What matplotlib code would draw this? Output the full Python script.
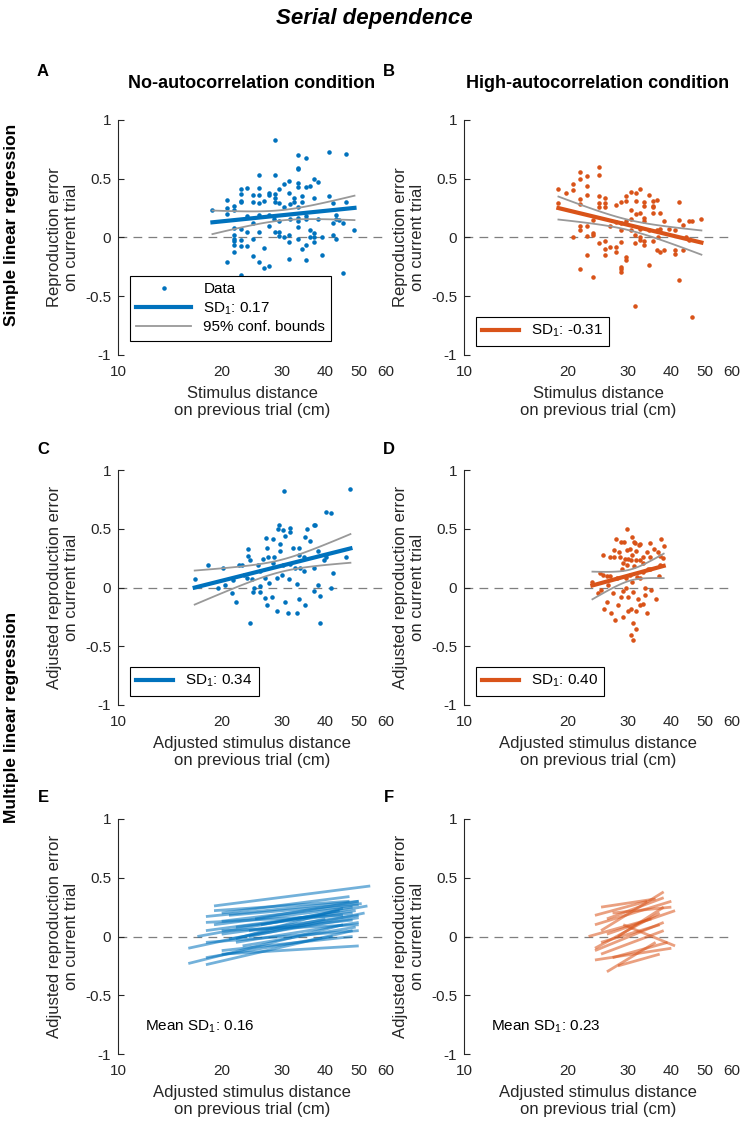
import numpy as np
import matplotlib
matplotlib.use("Agg")
import matplotlib.pyplot as plt

plt.rcParams['font.family'] = ['Liberation Sans', 'DejaVu Sans']
plt.rcParams['mathtext.default'] = 'regular'

BLUE = '#0072BD'
ORANGE = '#D95319'
DARK = '#262626'

# panel A: simple regression, no-autocorrelation condition
a_x = [28.5, 40.9, 45.8, 33.3, 35.2, 33.3, 33.3, 25.6, 28.5, 37.2, 31.3, 38.2, 30.4, 33.3, 33.3,
       35.2, 36.2, 22.7, 23.7, 25.6, 29.4, 22.7, 24.6, 25.6, 27.5, 27.5, 28.5, 31.3, 34.3, 28.5,
       37.2, 41.0, 22.7, 22.7, 20.7, 24.6, 25.6, 26.5, 28.5, 32.4, 32.4, 34.3, 45.8, 42.0, 18.8,
       20.7, 21.7, 21.7, 29.4, 31.6, 30.4, 33.3, 20.7, 23.7, 25.6, 27.4, 28.3, 29.4, 31.6, 33.3,
       33.3, 35.2, 35.2, 38.2, 42.9, 42.9, 43.9, 45.0, 42.0, 21.7, 22.7, 23.7, 24.6, 25.6, 27.5,
       28.5, 29.4, 29.4, 30.4, 31.3, 33.3, 36.2, 37.2, 36.2, 37.2, 37.2, 39.1, 42.0, 42.9, 48.6,
       21.7, 21.7, 21.7, 22.7, 24.6, 31.3, 33.3, 21.7, 22.7, 23.7, 35.2, 34.3, 21.7, 26.5, 24.6,
       31.3, 35.2, 39.1, 20.7, 25.6, 26.5, 27.5, 22.7, 44.9]
a_y = [0.83, 0.73, 0.71, 0.70, 0.68, 0.59, 0.58, 0.53, 0.53, 0.50, 0.48, 0.47, 0.455, 0.46, 0.43,
       0.43, 0.44, 0.41, 0.42, 0.42, 0.41, 0.37, 0.36, 0.36, 0.38, 0.36, 0.37, 0.375, 0.35, 0.34,
       0.34, 0.35, 0.31, 0.30, 0.32, 0.30, 0.29, 0.31, 0.30, 0.34, 0.30, 0.30, 0.30, 0.29, 0.23,
       0.25, 0.27, 0.23, 0.29, 0.285, 0.26, 0.26, 0.20, 0.18, 0.19, 0.19, 0.16, 0.14, 0.155, 0.17,
       0.14, 0.18, 0.155, 0.155, 0.195, 0.16, 0.15, 0.12, 0.12, 0.08, 0.07, 0.05, 0.12, 0.05, 0.10,
       0.05, 0.05, 0.01, 0.00, 0.02, 0.09, 0.06, 0.04, 0.00, 0.00, -0.04, 0.00, 0.02, -0.01, 0.06,
       0.02, -0.01, -0.03, -0.02, -0.01, -0.04, -0.01, -0.06, -0.07, -0.07, -0.06, -0.10, -0.12, -0.09, -0.16,
       -0.18, -0.19, -0.15, -0.21, -0.21, -0.26, -0.24, -0.32, -0.30]

# panel B: simple regression, high-autocorrelation condition
b_x = [24.6, 21.7, 24.6, 22.7, 21.7, 20.7, 22.7, 18.8, 20.7, 19.8, 22.7, 21.7, 24.6, 25.6, 30.5,
       32.5, 31.5, 29.5, 34.4, 28.5, 27.6, 25.6, 24.6, 25.6, 24.6, 29.5, 31.5, 33.4, 35.3, 36.3,
       35.3, 35.3, 33.4, 42.0, 21.7, 18.8, 30.5, 32.5, 35.3, 37.1, 31.5, 33.4, 30.5, 33.4, 38.2,
       42.0, 43.1, 44.9, 45.9, 48.9, 23.7, 26.6, 27.6, 28.5, 29.5, 21.7, 22.7, 21.7, 23.7, 23.7,
       20.7, 22.7, 28.5, 30.5, 32.5, 34.4, 36.3, 37.2, 39.3, 41.1, 31.4, 32.4, 32.4, 33.4, 35.3,
       36.6, 24.6, 25.6, 25.6, 26.6, 27.6, 28.5, 31.4, 33.4, 36.3, 37.2, 38.2, 41.1, 41.1, 43.1,
       44.1, 44.9, 25.6, 22.7, 27.6, 29.6, 29.6, 28.5, 28.5, 28.5, 34.4, 21.7, 23.7, 42.0, 31.4,
       45.9]
b_y = [0.60, 0.56, 0.53, 0.52, 0.50, 0.455, 0.435, 0.41, 0.40, 0.38, 0.36, 0.33, 0.35, 0.34, 0.39,
       0.41, 0.38, 0.35, 0.36, 0.30, 0.28, 0.29, 0.29, 0.26, 0.26, 0.31, 0.31, 0.30, 0.31, 0.32,
       0.27, 0.26, 0.27, 0.30, 0.285, 0.29, 0.235, 0.21, 0.21, 0.21, 0.20, 0.17, 0.16, 0.14, 0.14,
       0.15, 0.11, 0.14, 0.14, 0.16, 0.15, 0.10, 0.13, 0.12, 0.14, 0.10, 0.10, 0.06, 0.04, 0.02,
       0.00, 0.01, 0.06, 0.06, 0.07, 0.06, 0.06, 0.07, 0.07, 0.06, 0.02, 0.00, -0.02, -0.03, -0.03,
       0.00, -0.05, -0.03, -0.10, -0.08, -0.08, -0.04, -0.05, -0.06, -0.11, -0.12, -0.11, -0.11, -0.14, -0.11,
       0.00, -0.02, -0.15, -0.15, -0.12, -0.17, -0.19, -0.25, -0.27, -0.29, -0.23, -0.27, -0.34, -0.36, -0.58,
       -0.68]

# panel C: multiple regression (adjusted), no-autocorrelation
c_x = [30.3, 47.3, 40.2, 41.5, 29.4, 29.1, 30.2, 31.6, 31.6, 37.0, 37.3, 35.4, 35.0, 26.9, 28.2,
       30.5, 32.3, 33.5, 36.1, 29.5, 23.8, 23.9, 27.0, 28.4, 29.5, 33.5, 34.6, 38.2, 40.2, 45.9,
       20.2, 18.2, 22.4, 22.9, 24.2, 25.5, 26.4, 27.2, 28.1, 30.2, 31.6, 32.7, 33.8, 34.7, 37.0,
       39.7, 42.2, 16.7, 23.2, 23.7, 24.5, 25.9, 26.8, 27.4, 29.0, 30.0, 31.3, 33.1, 20.4, 19.5,
       21.6, 24.8, 25.9, 38.2, 41.5, 37.0, 38.6, 24.7, 25.9, 26.7, 28.0, 33.5, 24.2, 29.0, 31.2,
       33.0, 38.5, 27.0, 30.5, 35.0, 21.5, 22.0]
c_y = [0.82, 0.84, 0.64, 0.63, 0.53, 0.50, 0.49, 0.51, 0.47, 0.53, 0.53, 0.50, 0.43, 0.42, 0.41,
       0.44, 0.34, 0.34, 0.40, 0.37, 0.33, 0.27, 0.34, 0.26, 0.31, 0.28, 0.26, 0.31, 0.26, 0.26,
       0.17, 0.19, 0.19, 0.19, 0.23, 0.19, 0.24, 0.26, 0.21, 0.19, 0.20, 0.17, 0.17, 0.14, 0.17,
       0.23, 0.12, 0.07, 0.11, 0.08, 0.07, 0.14, 0.08, 0.04, 0.08, 0.11, 0.07, 0.03, 0.02, 0.00,
       0.06, 0.00, 0.01, 0.02, 0.00, -0.03, -0.07, -0.04, -0.04, -0.09, -0.08, -0.10, -0.30, -0.20, -0.22,
       -0.22, -0.30, -0.15, -0.12, -0.15, -0.05, -0.12]

# panel D: multiple regression (adjusted), high-autocorrelation
d_x = [29.8, 27.6, 28.5, 29.1, 30.7, 31.1, 31.3, 32.5, 32.2, 34.7, 37.4, 25.4, 27.2, 28.2, 29.8,
       30.3, 31.5, 30.7, 34.0, 26.5, 27.2, 28.4, 29.4, 30.0, 30.5, 31.6, 32.5, 33.1, 34.7, 37.1,
       28.9, 28.7, 29.8, 31.1, 33.2, 34.7, 37.1, 23.6, 25.4, 26.0, 26.6, 27.8, 29.6, 30.3, 31.7,
       32.5, 33.2, 34.3, 25.0, 27.0, 29.0, 30.0, 31.0, 32.0, 33.5, 35.0, 26.0, 28.0, 30.5, 31.5,
       33.0, 29.0, 31.0, 30.5, 31.0, 27.5, 34.0, 36.0, 24.5, 25.5, 26.2, 24.8, 26.8, 36.5, 37.8,
       35.5, 36.8, 38.0, 30.0, 31.5, 32.5, 29.5, 30.8, 28.5, 33.5]
d_y = [0.50, 0.41, 0.39, 0.39, 0.43, 0.39, 0.38, 0.37, 0.36, 0.38, 0.41, 0.28, 0.32, 0.30, 0.32,
       0.33, 0.31, 0.28, 0.30, 0.26, 0.26, 0.26, 0.24, 0.24, 0.23, 0.23, 0.23, 0.26, 0.26, 0.27,
       0.21, 0.16, 0.19, 0.18, 0.21, 0.16, 0.19, 0.05, 0.11, 0.10, 0.10, 0.08, 0.08, 0.11, 0.09,
       0.08, 0.13, 0.16, -0.02, -0.05, -0.03, -0.08, -0.04, -0.10, -0.06, -0.02, -0.12, -0.15, -0.18, -0.20,
       -0.14, -0.25, -0.30, -0.40, -0.45, -0.28, -0.22, -0.10, -0.05, -0.18, 0.02, 0.12, -0.22, 0.30, 0.25,
       0.33, 0.10, 0.35, -0.20, -0.35, -0.15, 0.00, 0.05, -0.08, 0.00]

# panel E: per-participant fits, no-autocorrelation (start/end of each line)
e_x0 = [19, 20, 18, 20, 19, 18, 16, 16, 18, 20, 22, 20, 24, 18, 22, 20, 25, 18, 22, 20,
        17, 21, 23, 19, 26, 18, 21, 24]
e_x1 = [54, 47, 50, 50, 48, 49, 40, 45, 48, 50, 50, 50, 52, 50, 48, 48, 50, 45, 45, 50,
        44, 51, 49, 47, 53, 42, 50, 48]
e_y0 = [0.26, 0.20, 0.17, 0.13, 0.10, 0.05, -0.10, -0.23, -0.24, -0.15, -0.05, 0.02, 0.00, -0.05, 0.08,
        -0.12, 0.15, 0.12, -0.02, 0.05, 0.00, 0.18, -0.08, 0.22, 0.10, -0.18, -0.02, 0.05]
e_y1 = [0.43, 0.34, 0.30, 0.27, 0.25, 0.22, 0.15, 0.10, 0.05, -0.08, 0.12, 0.18, 0.20, 0.05, 0.20,
        0.00, 0.30, 0.18, 0.24, 0.10, 0.22, 0.28, 0.08, 0.30, 0.26, 0.00, 0.16, 0.14]

# panel F: per-participant fits, high-autocorrelation
f_x0 = [25, 26, 24, 24, 25, 26, 24, 27, 25, 28, 24, 28, 26, 23, 27, 25, 29, 24]
f_x1 = [38, 38, 40, 37, 38, 36, 40, 40, 37, 38, 34, 37, 41, 35, 39, 36, 41, 38]
f_y0 = [0.05, 0.15, 0.10, -0.10, -0.15, -0.30, -0.20, 0.20, -0.05, 0.00, 0.18, -0.25, 0.02, 0.00, -0.18, 0.25, 0.10, -0.12]
f_y1 = [0.38, 0.33, 0.30, 0.20, 0.05, -0.05, -0.10, 0.25, 0.10, 0.25, 0.30, -0.15, 0.22, 0.15, -0.05, 0.32, -0.08, 0.12]

sd_simple = [0.17, -0.31]
sd_multi = [0.34, 0.40]
sd_mean = [0.16, 0.23]


def fit_with_ci(x, y):
    # linear fit in log10(x), with 95% confidence bounds on the mean
    lx = np.log10(np.asarray(x))
    y = np.asarray(y)
    n = len(lx)
    b1, b0 = np.polyfit(lx, y, 1)
    resid = y - (b0 + b1 * lx)
    s = np.sqrt((resid ** 2).sum() / (n - 2))
    sxx = ((lx - lx.mean()) ** 2).sum()
    grid = np.linspace(lx.min(), lx.max(), 100)
    pred = b0 + b1 * grid
    half = 1.98 * s * np.sqrt(1.0 / n + (grid - lx.mean()) ** 2 / sxx)
    return 10 ** grid, pred, pred - half, pred + half


def style_axes(ax, ylabel, xlabel):
    ax.set_xscale('log')
    ax.set_xlim(10, 60)
    ax.set_ylim(-1, 1)
    ax.set_xticks([10, 20, 30, 40, 50, 60])
    ax.set_xticklabels(['10', '20', '30', '40', '50', '60'])
    ax.xaxis.set_minor_locator(matplotlib.ticker.NullLocator())
    ax.set_yticks([-1, -0.5, 0, 0.5, 1])
    ax.set_yticklabels(['-1', '-0.5', '0', '0.5', '1'])
    for s in ['top', 'right', 'bottom']:
        ax.spines[s].set_visible(False)
    ax.spines['left'].set_color(DARK)
    ax.spines['left'].set_linewidth(0.8)
    ax.tick_params(axis='y', direction='in', length=4, width=0.8, colors=DARK, labelsize=11, pad=5)
    ax.tick_params(axis='x', length=0, colors=DARK, labelsize=11, pad=7)
    ax.axhline(0, color='#7f7f7f', lw=0.9, dashes=(7, 5), zorder=0)
    ax.set_ylabel(ylabel, fontsize=12, color=DARK, labelpad=4)
    ax.set_xlabel(xlabel, fontsize=12, color=DARK, labelpad=5)


fig = plt.figure(figsize=(7.48, 11.3), dpi=100)
W, H = 748.0, 1130.0
lefts = [118 / W, 464 / W]
bottoms = [1 - 355 / H, 1 - 705 / H, 1 - 1054 / H]
aw, ah = 268 / W, 235 / H

xl_simple = 'Stimulus distance\non previous trial (cm)'
xl_adj = 'Adjusted stimulus distance\non previous trial (cm)'
yl_simple = 'Reproduction error\non current trial'
yl_adj = 'Adjusted reproduction error\non current trial'

scatter_sets = [(a_x, a_y, BLUE), (b_x, b_y, ORANGE), (c_x, c_y, BLUE), (d_x, d_y, ORANGE)]
sd_vals = sd_simple + sd_multi
axes = []
for i, (sx, sy, col) in enumerate(scatter_sets):
    row, colm = divmod(i, 2)
    ax = fig.add_axes([lefts[colm], bottoms[row], aw, ah])
    axes.append(ax)
    style_axes(ax, yl_simple if row == 0 else yl_adj, xl_simple if row == 0 else xl_adj)
    gx, pred, lo, hi = fit_with_ci(sx, sy)
    h_data, = ax.plot(sx, sy, '.', color=col, ms=4.5, ls='none', label='Data')
    h_fit, = ax.plot(gx, pred, color=col, lw=3, label='SD$_1$: %.2f' % sd_vals[i])
    h_ci, = ax.plot(gx, lo, color='#999999', lw=1.3, label='95% conf. bounds')
    ax.plot(gx, hi, color='#999999', lw=1.3)
    if i == 0:
        handles = [h_data, h_fit, h_ci]
        leg = ax.legend(handles=handles, loc='upper left', bbox_to_anchor=(0.045, 0.335),
                        fontsize=11, handlelength=3.6, labelspacing=0.25, borderaxespad=0,
                        fancybox=False, framealpha=1, edgecolor='black', borderpad=0.4)
    else:
        leg = ax.legend(handles=[h_fit], loc='lower left', bbox_to_anchor=(0.045, 0.04),
                        fontsize=11, handlelength=2.4, borderaxespad=0,
                        fancybox=False, framealpha=1, edgecolor='black', borderpad=0.4)
    leg.get_frame().set_linewidth(0.8)

line_sets = [(e_x0, e_x1, e_y0, e_y1, BLUE), (f_x0, f_x1, f_y0, f_y1, ORANGE)]
for j, (x0, x1, y0, y1, col) in enumerate(line_sets):
    ax = fig.add_axes([lefts[j], bottoms[2], aw, ah])
    axes.append(ax)
    style_axes(ax, yl_adj, xl_adj)
    for k in range(len(x0)):
        ax.plot([x0[k], x1[k]], [y0[k], y1[k]], color=col, lw=2, alpha=0.55, solid_capstyle='butt')
    ax.text(0.1, 0.1, 'Mean SD$_1$: %.2f' % sd_mean[j], transform=ax.transAxes,
            fontsize=11, color='black')

fig.text(0.5, 0.993, 'Serial dependence', ha='center', va='top', fontsize=16,
         fontweight='bold', fontstyle='italic')
fig.text(252 / W, 1 - 83 / H, 'No-autocorrelation condition', ha='center', va='center',
         fontsize=13, fontweight='bold')
fig.text(598 / W, 1 - 83 / H, 'High-autocorrelation condition', ha='center', va='center',
         fontsize=13, fontweight='bold')

letters = ['A', 'B', 'C', 'D', 'E', 'F']
letter_y = [72, 72, 449, 449, 798, 798]
for k, lt in enumerate(letters):
    fig.text((43 + 346 * (k % 2)) / W, 1 - letter_y[k] / H, lt, ha='center', va='center',
             fontsize=12, fontweight='bold')

fig.text(12 / W, 1 - 225 / H, 'Simple linear regression', rotation=90, ha='center', va='center',
         fontsize=12.5, fontweight='bold')
fig.text(12 / W, 1 - 717 / H, 'Multiple linear regression', rotation=90, ha='center', va='center',
         fontsize=12.5, fontweight='bold')

fig.savefig('out.png', dpi=100)
